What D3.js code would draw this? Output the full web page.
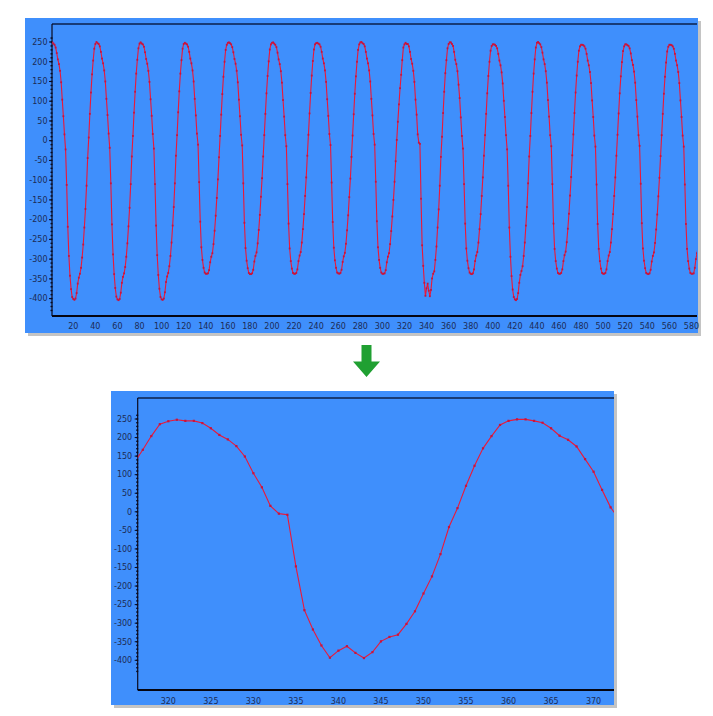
<!DOCTYPE html>
<html>
<head>
<meta charset="utf-8">
<script src="https://cdn.jsdelivr.net/npm/d3@7"></script>
<style>
  body { margin: 0; background: #fff; }
  .tick-label { font-family: "DejaVu Sans", sans-serif; font-size: 8px; fill: #1c2b55; }
</style>
</head>
<body>
<div id="chart"></div>
<script>
// first sample index of the recording
var firstIndex = 1;

// samples, one row per cycle (~40 samples each)
var samples = [
  249, 246, 243, 236, 222, 206, 194, 177, 148, 104, 62, 16, -22, -112, -218, -292, -342, -376, -396, -401, -403, -400, -386, -362, -347, -337, -322, -296, -263, -220, -173, -114, -44, 8, 68, 122, 168, 203, 233, 245,
  250, 247, 245, 239, 225, 208, 196, 178, 150, 106, 65, 18, -18, -108, -212, -288, -338, -373, -395, -402, -404, -401, -385, -360, -345, -336, -320, -294, -260, -217, -170, -110, -40, 12, 71, 124, 170, 205, 234, 246,
  249, 246, 244, 238, 224, 207, 195, 177, 149, 105, 63, 17, -20, -110, -215, -290, -340, -375, -396, -402, -403, -400, -384, -358, -344, -335, -318, -292, -258, -215, -168, -108, -38, 14, 72, 125, 170, 204, 233, 245,
  248, 246, 244, 238, 225, 208, 196, 178, 150, 106, 64, 18, -10, -105, -205, -270, -302, -322, -334, -337, -337, -336, -328, -308, -294, -285, -262, -228, -190, -145, -98, -42, 12, 66, 118, 162, 200, 230, 243, 248,
  249, 247, 244, 237, 224, 207, 195, 177, 148, 104, 62, 15, -12, -108, -208, -272, -304, -323, -335, -338, -338, -336, -327, -306, -292, -283, -260, -226, -188, -142, -95, -40, 14, 68, 120, 164, 201, 231, 244, 248,
  249, 246, 243, 237, 223, 206, 194, 176, 147, 103, 61, 14, -14, -110, -210, -273, -305, -324, -335, -337, -337, -335, -326, -305, -291, -282, -258, -224, -186, -140, -93, -38, 15, 69, 121, 165, 202, 231, 244, 247,
  248, 246, 244, 238, 225, 208, 196, 178, 149, 105, 63, 17, -11, -106, -206, -271, -303, -322, -334, -336, -337, -335, -327, -307, -293, -284, -261, -227, -189, -143, -96, -41, 13, 67, 119, 163, 200, 230, 244, 249,
  250, 247, 245, 239, 225, 208, 196, 178, 150, 106, 64, 17, -10, -104, -204, -270, -302, -322, -334, -337, -337, -336, -328, -308, -294, -285, -262, -229, -192, -150, -104, -52, 2, 48, 92, 133, 167, 204, 236, 244,
  248, 245, 245, 239, 225, 207, 195, 177, 149, 104, 66, 16, -5, -8, -147, -265, -317, -360, -393, -374, -362, -380, -394, -378, -349, -337, -331, -302, -268, -220, -174, -114, -41, 10, 70, 124, 171, 204, 234, 245,
  249, 249, 245, 240, 225, 205, 194, 176, 142, 108, 59, 12, -20, -110, -210, -273, -304, -323, -334, -337, -338, -336, -326, -305, -291, -282, -258, -224, -186, -140, -93, -38, 14, 68, 120, 164, 200, 228, 240, 244,
  244, 243, 240, 234, 220, 203, 191, 173, 145, 101, 60, 14, -22, -114, -220, -294, -343, -377, -396, -402, -404, -401, -386, -360, -340, -330, -318, -292, -258, -215, -168, -108, -40, 12, 70, 124, 170, 206, 236, 248,
  250, 247, 244, 237, 223, 206, 194, 176, 147, 103, 61, 14, -14, -110, -210, -274, -305, -324, -335, -337, -337, -335, -326, -305, -290, -281, -257, -223, -185, -139, -92, -37, 16, 70, 122, 165, 200, 228, 239, 243,
  243, 242, 239, 233, 220, 203, 191, 174, 146, 102, 60, 13, -15, -111, -211, -274, -305, -324, -335, -337, -337, -335, -326, -305, -291, -282, -258, -224, -186, -140, -93, -38, 15, 69, 120, 163, 199, 227, 239, 244,
  244, 242, 240, 234, 221, 204, 192, 175, 147, 103, 61, 14, -13, -109, -209, -273, -304, -323, -335, -337, -338, -336, -327, -306, -292, -283, -259, -225, -187, -141, -94, -39, 14, 68, 119, 162, 198, 226, 238, 243,
  243, 242, 239, 233, 220, 203, 191, 174, 146, 102, 60, 13, -15, -111, -211, -274, -305, -324, -335, -337, -337, -336, -322, -300, -285, -268
];

// axis ticks
var yTicks = [250, 200, 150, 100, 50, 0, -50, -100, -150, -200, -250, -300, -350, -400];
var overviewXTicks = d3.range(20, 581, 20);
var zoomXTicks = [320, 325, 330, 335, 340, 345, 350, 355, 360, 365, 370];

// visible index ranges
var overviewRange = [0.7, 585];
var zoomRange = [316.4, 372.4];

var points = samples.map((v, i) => ({ idx: firstIndex + i, val: v }));

var svg = d3.select("#chart")
  .append("svg")
  .attr("width", 713)
  .attr("height", 716);

// one panel = blue box with plot frame, axes and the red trace
function drawPanel(opt) {
  var g = svg.append("g");

  // drop shadow + blue panel
  g.append("rect")
    .attr("x", opt.panel.x + 3).attr("y", opt.panel.y + 3)
    .attr("width", opt.panel.w).attr("height", opt.panel.h)
    .attr("fill", "#c4c4c4");
  g.append("rect")
    .attr("x", opt.panel.x).attr("y", opt.panel.y)
    .attr("width", opt.panel.w).attr("height", opt.panel.h)
    .attr("fill", "#3f8ffc");

  var x = d3.scaleLinear().domain(opt.xDomain).range([opt.left, opt.right]);
  var y = d3.scaleLinear().domain([-400, 250]).range(opt.yRange);

  var clipId = "clip" + opt.name;
  g.append("clipPath").attr("id", clipId)
    .append("rect")
    .attr("x", opt.left).attr("y", opt.top)
    .attr("width", opt.right - opt.left).attr("height", opt.bottom - opt.top);

  // frame top line
  g.append("line")
    .attr("x1", opt.left).attr("x2", opt.right)
    .attr("y1", opt.top).attr("y2", opt.top)
    .attr("stroke", "#0d1f4a").attr("stroke-width", 1.5);

  // left axis with minor ticks (gives the dashed look)
  g.append("line")
    .attr("x1", opt.left).attr("x2", opt.left)
    .attr("y1", opt.top).attr("y2", opt.bottom)
    .attr("stroke", "#0a0a1e").attr("stroke-width", 1.2);
  var minor = d3.range(-430, 270, 10).filter(v => y(v) > opt.top && y(v) < opt.bottom);
  g.selectAll(".minor").data(minor).enter().append("line")
    .attr("x1", opt.left - 1.5).attr("x2", opt.left + 0.5)
    .attr("y1", d => y(d)).attr("y2", d => y(d))
    .attr("stroke", "#0a0a1e").attr("stroke-width", 1.4);
  g.selectAll(".major").data(yTicks).enter().append("line")
    .attr("x1", opt.left - 3).attr("x2", opt.left)
    .attr("y1", d => y(d)).attr("y2", d => y(d))
    .attr("stroke", "#0a0a1e").attr("stroke-width", 1);

  // y labels
  g.selectAll(".ylab").data(yTicks).enter().append("text")
    .attr("class", "tick-label")
    .attr("x", opt.left - opt.yLabelGap)
    .attr("y", d => y(d))
    .attr("dy", "0.35em")
    .attr("text-anchor", "end")
    .text(d => d);

  // bottom axis
  g.append("line")
    .attr("x1", opt.left).attr("x2", opt.right)
    .attr("y1", opt.bottom).attr("y2", opt.bottom)
    .attr("stroke", "#050510").attr("stroke-width", 2);

  g.selectAll(".xlab").data(opt.xTicks).enter().append("text")
    .attr("class", "tick-label")
    .attr("x", d => x(d))
    .attr("y", opt.bottom + opt.xLabelGap)
    .attr("dy", "0.35em")
    .attr("text-anchor", "middle")
    .text(d => d);

  // trace
  var visible = points.filter(p => p.idx >= opt.xDomain[0] - 2 && p.idx <= opt.xDomain[1] + 2);
  var plot = g.append("g").attr("clip-path", `url(#${clipId})`);
  var line = d3.line().x(d => x(d.idx)).y(d => y(d.val));
  plot.append("path")
    .datum(visible)
    .attr("d", line)
    .attr("fill", "none")
    .attr("stroke", "#ec1838")
    .attr("stroke-width", 1.1);
  plot.selectAll(".pt").data(visible).enter().append("rect")
    .attr("x", d => x(d.idx) - opt.dot / 2)
    .attr("y", d => y(d.val) - opt.dot / 2)
    .attr("width", opt.dot).attr("height", opt.dot)
    .attr("fill", "#c8143c");
}

drawPanel({
  name: "overview",
  panel: { x: 25, y: 18, w: 673, h: 315 },
  left: 52, right: 697, top: 24, bottom: 316,
  xDomain: overviewRange,
  yRange: [298.6, 42],
  xTicks: overviewXTicks,
  yLabelGap: 4.5,
  xLabelGap: 10.5,
  dot: 1.8
});

drawPanel({
  name: "zoom",
  panel: { x: 111, y: 391, w: 503, h: 314 },
  left: 137.7, right: 614, top: 398, bottom: 690,
  xDomain: zoomRange,
  yRange: [660.3, 419],
  xTicks: zoomXTicks,
  yLabelGap: 5.5,
  xLabelGap: 11.5,
  dot: 2.2
});

// green arrow between the two panels
svg.append("path")
  .attr("d", "M361.5,345 L371.5,345 L371.5,361.5 L380,361.5 L366.5,377 L353,361.5 L361.5,361.5 Z")
  .attr("fill", "#20a032");
</script>
</body>
</html>
